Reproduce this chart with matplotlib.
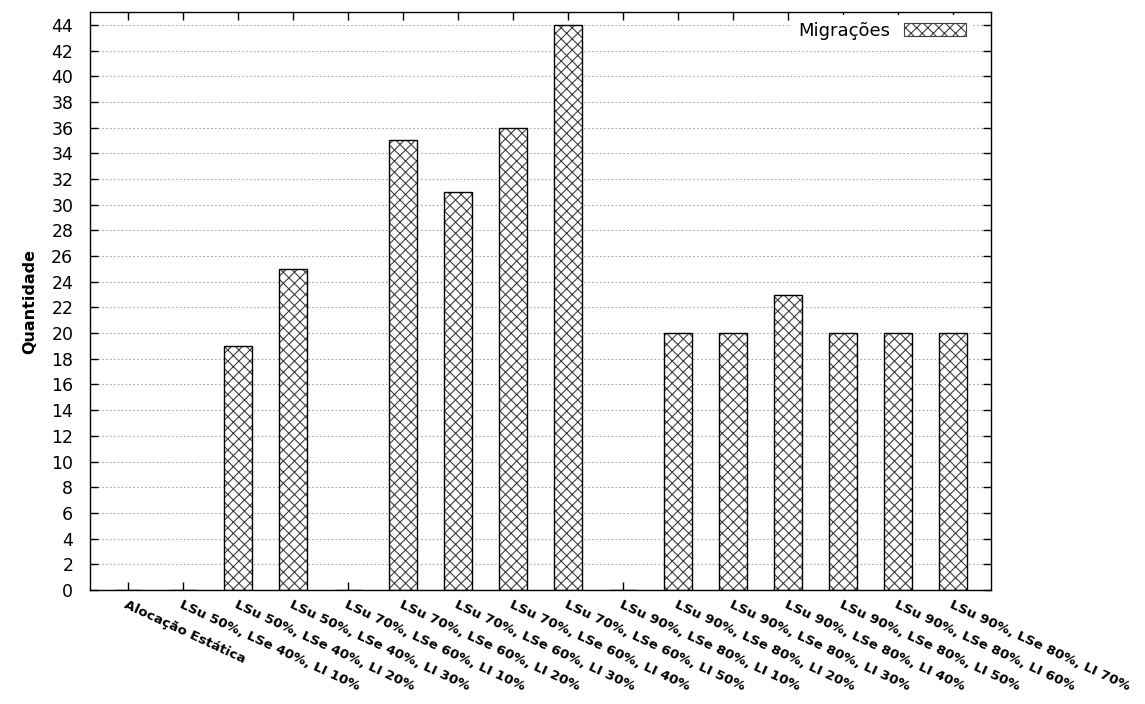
import matplotlib
matplotlib.use("Agg")
import matplotlib.pyplot as plt
from matplotlib.patches import Patch

categories = [
    "Alocação Estática",
    "LSu 50%, LSe 40%, LI 10%",
    "LSu 50%, LSe 40%, LI 20%",
    "LSu 50%, LSe 40%, LI 30%",
    "LSu 70%, LSe 60%, LI 10%",
    "LSu 70%, LSe 60%, LI 20%",
    "LSu 70%, LSe 60%, LI 30%",
    "LSu 70%, LSe 60%, LI 40%",
    "LSu 70%, LSe 60%, LI 50%",
    "LSu 90%, LSe 80%, LI 10%",
    "LSu 90%, LSe 80%, LI 20%",
    "LSu 90%, LSe 80%, LI 30%",
    "LSu 90%, LSe 80%, LI 40%",
    "LSu 90%, LSe 80%, LI 50%",
    "LSu 90%, LSe 80%, LI 60%",
    "LSu 90%, LSe 80%, LI 70%",
]
migracoes = [0, 0, 19, 25, 0, 35, 31, 36, 44, 0, 20, 20, 23, 20, 20, 20]
y_ticks = list(range(0, 45, 2))

plt.rcParams["font.family"] = "DejaVu Sans"
plt.rcParams["hatch.linewidth"] = 0.8

fig = plt.figure(figsize=(11.45, 7.04), dpi=100)
ax = fig.add_axes([90 / 1145, 1 - 590 / 704, 901 / 1145, 578 / 704])

x = list(range(len(categories)))
hatch_col = "#404040"
ax.bar(x, migracoes, width=0.51, color="white", edgecolor=hatch_col,
       hatch="xxx", linewidth=0, zorder=2)
ax.bar(x, migracoes, width=0.51, fill=False, edgecolor="black",
       linewidth=1.0, zorder=3)

ax.set_xlim(-0.69, 15.69)
ax.set_ylim(0, 45)
ax.set_yticks(y_ticks)
ax.set_xticks(x)
ax.set_xticklabels(categories, rotation=-25, ha="left", va="top",
                   rotation_mode="anchor", fontweight="bold", fontsize=9.6)
ax.tick_params(axis="y", labelsize=12.5, pad=12)
ax.tick_params(direction="in", length=6, width=1, top=True, right=True)
ax.tick_params(axis="x", pad=6)

ax.yaxis.grid(True, color="#a8a8a8", linestyle=(0, (1.5, 2)), linewidth=0.8)
ax.set_axisbelow(True)
for s in ax.spines.values():
    s.set_linewidth(1.0)

ax.set_ylabel("Quantidade", fontweight="bold", fontsize=11.5, labelpad=10)

handle = Patch(facecolor="white", edgecolor=hatch_col, hatch="xxx", linewidth=0.8)
leg = ax.legend([handle], ["Migrações"], loc="upper right", markerfirst=False,
                frameon=True, fancybox=False, framealpha=1, edgecolor="none",
                fontsize=13, handlelength=3.4, handleheight=0.7,
                handletextpad=0.8, bbox_to_anchor=(0.988, 1.008),
                borderaxespad=0.4)
leg.get_frame().set_facecolor("white")

fig.savefig("out.png", dpi=100)
